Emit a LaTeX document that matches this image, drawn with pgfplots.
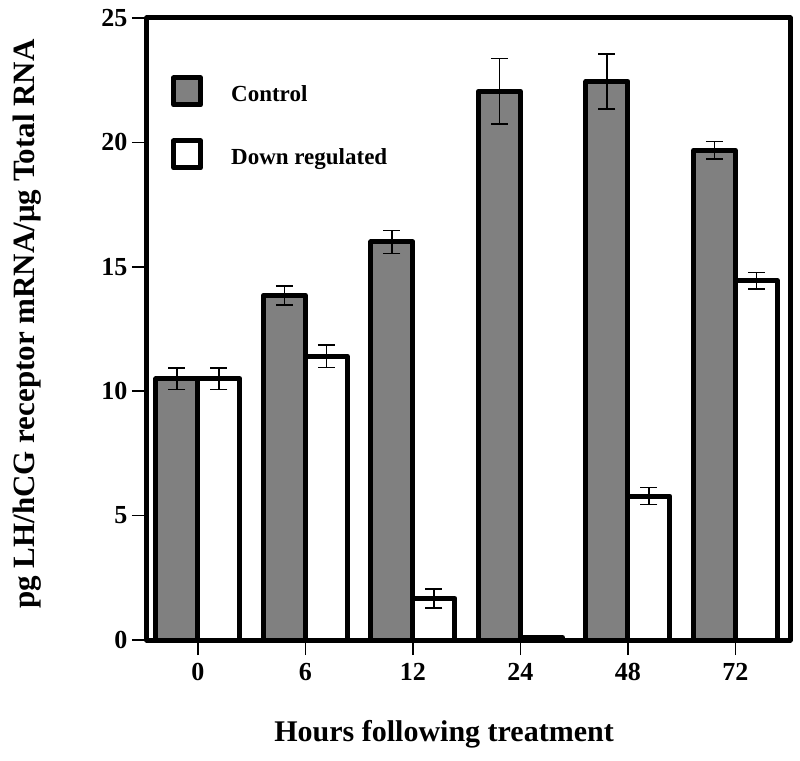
\documentclass[border=0pt]{standalone}
\usepackage{fontspec}
\setmainfont{Liberation Serif}
\usepackage{pgfplots}
\pgfplotsset{compat=1.18}
\begin{document}
\begin{tikzpicture}
\useasboundingbox (-147bp,-121bp) rectangle (653bp,640bp);
\begin{axis}[
  at={(0,0)}, anchor=south west,
  scale only axis, width=643bp, height=622bp,
  xmin=-0.474, xmax=5.507,
  ymin=0, ymax=25,
  ytick={0,5,10,15,20,25},
  xtick={0,1,2,3,4,5}, xticklabels={0,6,12,24,48,72},
  ybar=0pt, bar width=42bp,
  axis on top,
  axis line style={line width=5bp, line join=round},
  tick style={line width=1.5bp, black},
  tick align=outside, major tick length=15bp,
  tick pos=left,
  /pgf/number format/assume math mode=true,
  ticklabel style={font=\fontsize{26bp}{26bp}\selectfont\bfseries},
  yticklabel style={xshift=-1bp},
  xticklabel style={yshift=-5bp},
  xlabel={Hours following treatment},
  ylabel={pg LH/hCG receptor mRNA/μg Total RNA},
  xlabel style={at={(axis description cs:0.462,-0.1624)}, anchor=base, font=\fontsize{30bp}{30bp}\selectfont\bfseries},
  ylabel style={at={(axis description cs:-0.1757,0.508)}, anchor=base, rotate=0, font=\fontsize{31bp}{31bp}\selectfont\bfseries},
  legend style={draw=none, fill=none, at={(0.0373,0.908)}, anchor=north west,
    font=\fontsize{23bp}{23bp}\selectfont\bfseries, row sep=31bp, inner sep=0pt,
    /tikz/every odd column/.append style={column sep=26bp}},
  legend cell align=left,
  mylegend/.style={legend image code/.code={\draw[##1, line width=5bp, line join=round] (0bp,-11bp) rectangle (27bp,16bp);}},
]
\addplot[fill=gray, draw=black, line width=5bp, line join=round, mylegend,
  error bars/.cd, y dir=both, y explicit,
  error bar style={line width=1.5bp, black},
  error mark options={rotate=90, mark size=8.5bp, line width=1.5bp, black}]
coordinates {
  (0,10.5) +- (0,0.43)
  (1,13.85) +- (0,0.38)
  (2,16.0) +- (0,0.46)
  (3,22.05) +- (0,1.32)
  (4,22.45) +- (0,1.1)
  (5,19.68) +- (0,0.35)
};
\addlegendentry{Control}
\addplot[fill=white, draw=black, line width=5bp, line join=round, mylegend,
  error bars/.cd, y dir=both, y explicit,
  error bar style={line width=1.5bp, black},
  error mark options={rotate=90, mark size=8.5bp, line width=1.5bp, black}]
coordinates {
  (0,10.5) +- (0,0.43)
  (1,11.4) +- (0,0.45)
  (2,1.67) +- (0,0.38)
  (3,0.1) +- (0,0)
  (4,5.78) +- (0,0.34)
  (5,14.44) +- (0,0.34)
};
\addlegendentry{Down regulated}
\end{axis}
\end{tikzpicture}
\end{document}
